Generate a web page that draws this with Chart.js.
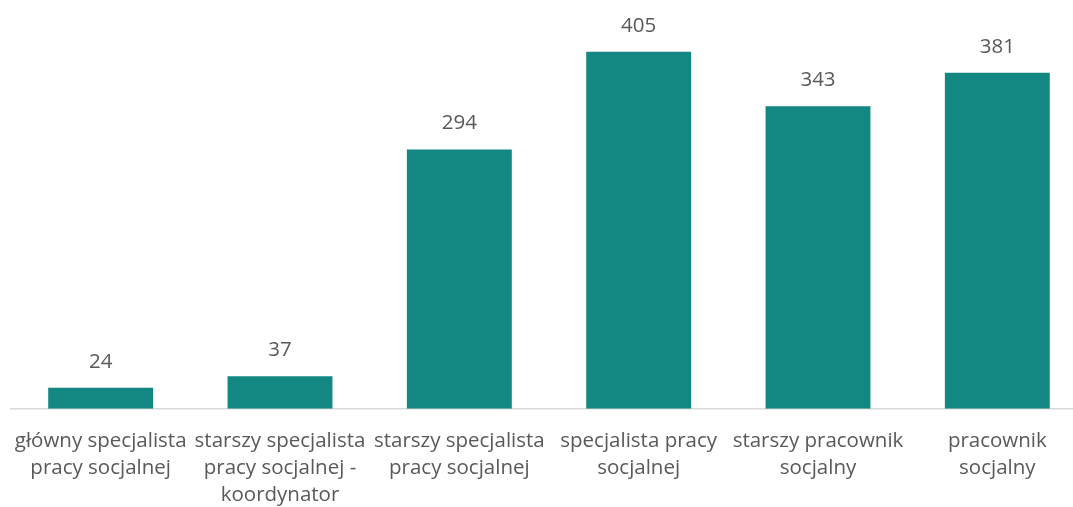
<!DOCTYPE html>
<html>
<head>
<meta charset="utf-8">
<script src="https://cdn.jsdelivr.net/npm/chart.js@4"></script>
<style>
  html, body { margin: 0; padding: 0; background: #fff; overflow: hidden; }
  #wrap { width: 1087px; height: 520px; position: relative; }
</style>
</head>
<body>
<div id="wrap"><canvas id="chart"></canvas></div>
<script>
var categories = [
    ['główny specjalista', 'pracy socjalnej'],
    ['starszy specjalista', 'pracy socjalnej -', 'koordynator'],
    ['starszy specjalista', 'pracy socjalnej'],
    ['specjalista pracy', 'socjalnej'],
    ['starszy pracownik', 'socjalny'],
    ['pracownik', 'socjalny']
];
var values = [24, 37, 294, 405, 343, 381];

var barColor = '#138781';
var textColor = '#595959';
var fontFamily = '"Open Sans", "Liberation Sans", sans-serif';

var valueLabels = {
    id: 'valueLabels',
    afterDatasetsDraw: function(chart) {
        var ctx = chart.ctx;
        var meta = chart.getDatasetMeta(0);
        ctx.save();
        ctx.fillStyle = textColor;
        ctx.font = '20.5px ' + fontFamily;
        ctx.textAlign = 'center';
        ctx.textBaseline = 'middle';
        meta.data.forEach(function(bar, i) {
            ctx.fillText(chart.data.datasets[0].data[i], bar.x, bar.y - 26);
        });
        ctx.restore();
    }
};

var ctx = document.getElementById('chart').getContext('2d');
var chart = new Chart(ctx, {
    type: 'bar',
    data: {
        labels: categories,
        datasets: [{
            data: values,
            backgroundColor: barColor,
            borderWidth: 0,
            barPercentage: 0.585,
            categoryPercentage: 1
        }]
    },
    options: {
        responsive: true,
        maintainAspectRatio: false,
        animation: false,
        layout: {
            padding: { left: 11, right: 0, top: 12, bottom: 0 }
        },
        scales: {
            x: {
                grid: { display: false },
                border: { color: '#d9d9d9', width: 1.5 },
                ticks: {
                    color: textColor,
                    font: { size: 20.5, family: fontFamily, lineHeight: 1.32 },
                    autoSkip: false,
                    maxRotation: 0,
                    padding: 11
                }
            },
            y: {
                display: false,
                min: 0,
                max: 450
            }
        },
        plugins: {
            legend: { display: false },
            tooltip: { enabled: false }
        }
    },
    plugins: [valueLabels]
});
</script>
</body>
</html>
